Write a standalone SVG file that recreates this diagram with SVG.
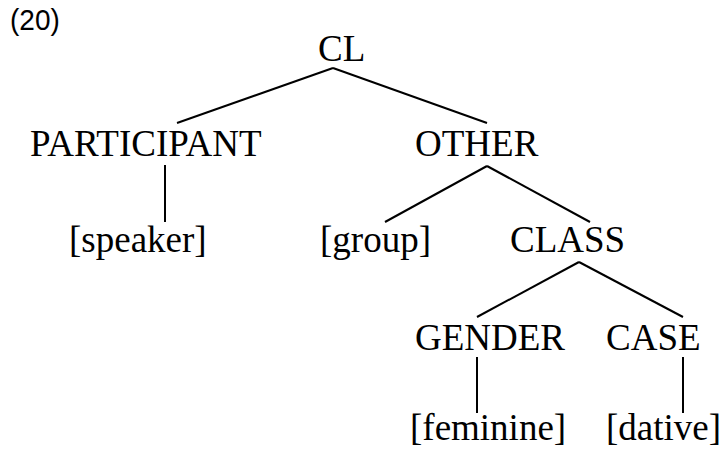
<svg xmlns="http://www.w3.org/2000/svg" width="721" height="453" viewBox="0 0 721 453">
<style>
  .lbl { font-family: "Liberation Serif", "Times New Roman", serif; font-size: 37px; fill: #000; }
  .num { font-family: "Liberation Sans", Arial, sans-serif; font-size: 28px; fill: #000; }
  .edge { stroke: #000; stroke-width: 2; fill: none; stroke-linecap: butt; }
</style>
<rect width="721" height="453" fill="#fff"/>
<text class="num" x="10" y="30" transform="translate(10 30) scale(1 1.08) translate(-10 -30)">(20)</text>
<g id="connectors">
  <line class="edge" x1="333" y1="68" x2="177" y2="123"/>
  <line class="edge" x1="333" y1="68" x2="487" y2="123"/>
  <line class="edge" x1="165" y1="165" x2="165" y2="222"/>
  <line class="edge" x1="487" y1="166" x2="385" y2="222"/>
  <line class="edge" x1="487" y1="166" x2="590" y2="222"/>
  <line class="edge" x1="579" y1="262" x2="477" y2="317"/>
  <line class="edge" x1="579" y1="262" x2="683" y2="317"/>
  <line class="edge" x1="477" y1="357" x2="477" y2="413"/>
  <line class="edge" x1="683" y1="357" x2="683" y2="413"/>
</g>
<g id="node-cl"><text class="lbl" x="318" y="61">CL</text></g>
<g id="node-participant"><text class="lbl" x="30" y="156">PARTICIPANT</text></g>
<g id="node-other"><text class="lbl" x="415" y="156">OTHER</text></g>
<g id="node-speaker"><text class="lbl" x="69" y="252">[speaker]</text></g>
<g id="node-group"><text class="lbl" x="320" y="252">[group]</text></g>
<g id="node-class"><text class="lbl" x="510" y="252">CLASS</text></g>
<g id="node-gender"><text class="lbl" x="415" y="350">GENDER</text></g>
<g id="node-case"><text class="lbl" x="606" y="350">CASE</text></g>
<g id="node-feminine"><text class="lbl" x="410" y="440">[feminine]</text></g>
<g id="node-dative"><text class="lbl" x="606" y="440">[dative]</text></g>
</svg>
